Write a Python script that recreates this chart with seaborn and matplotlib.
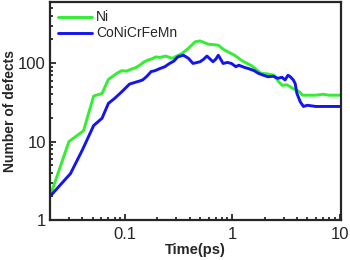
import matplotlib
matplotlib.use("Agg")
import matplotlib.pyplot as plt
import seaborn as sns
import pandas as pd
from matplotlib.ticker import LogLocator, NullFormatter, FixedLocator, FixedFormatter

ni_t = [0.02, 0.03, 0.041, 0.051, 0.061, 0.07, 0.085, 0.093, 0.103, 0.115, 0.127, 0.14,
        0.151, 0.165, 0.18, 0.194, 0.21, 0.24, 0.26, 0.276, 0.3, 0.34, 0.38, 0.42, 0.45,
        0.5, 0.55, 0.6, 0.67, 0.74, 0.8, 0.85, 0.95, 1.05, 1.21, 1.35, 1.49, 1.65, 1.85,
        2.1, 2.45, 2.7, 2.92, 3.2, 3.47, 3.7, 4.0, 4.3, 4.5, 5, 6, 7, 8, 10]
ni_n = [2, 10, 13.7, 38, 41, 62, 75, 80, 79, 84, 88, 96,
        104, 110, 114, 120, 118, 123, 118, 115, 122, 133, 150, 170, 187,
        192, 182, 174, 172, 169, 155, 146, 135, 126, 109, 100, 94, 84, 74,
        73, 70, 58, 52, 53, 50, 47, 45, 42, 39, 39, 39, 40, 39, 39]

hea_t = [0.02, 0.031, 0.04, 0.051, 0.061, 0.07, 0.08, 0.093, 0.11, 0.125, 0.136, 0.146,
         0.16, 0.175, 0.19, 0.21, 0.235, 0.26, 0.285, 0.31, 0.35, 0.39, 0.43, 0.5, 0.54,
         0.58, 0.66, 0.7, 0.74, 0.82, 0.9, 0.98, 1.08, 1.15, 1.3, 1.42, 1.6, 1.75, 1.95,
         2.15, 2.4, 2.65, 2.9, 3.1, 3.3, 3.47, 3.7, 3.85, 4.0, 4.3, 4.6, 5, 6, 7, 8, 10]
hea_n = [2, 3.9, 7.8, 16, 19.8, 30.7, 35.5, 43, 54, 57, 59, 61,
         68, 78, 80, 85, 90, 99, 106, 120, 126, 115, 99, 104, 112,
         123, 104, 112, 126, 99, 102, 99, 90, 94, 88, 85, 80, 74, 70,
         67, 68, 64, 66, 61, 70, 67, 61, 55, 41, 32, 28, 29, 28, 28, 28, 28]

labels = ["Ni", "CoNiCrFeMn"]
colors = ["#33ee33", "#1414ee"]

df = pd.concat([
    pd.DataFrame({"t": ni_t, "n": ni_n, "alloy": labels[0]}),
    pd.DataFrame({"t": hea_t, "n": hea_n, "alloy": labels[1]}),
])

sns.set_style("ticks")
plt.rcParams["font.family"] = ["Liberation Sans", "DejaVu Sans"]

fig = plt.figure(figsize=(3.5, 2.6), dpi=100)
ax = fig.add_axes([0.143, 0.154, 0.83, 0.838])

sns.lineplot(data=df, x="t", y="n", hue="alloy", palette=colors, linewidth=2.1, ax=ax)

ax.set_xscale("log")
ax.set_yscale("log")
ax.set_xlim(0.02, 10.2)
ax.set_ylim(1, 600)

ax.xaxis.set_major_locator(FixedLocator([0.1, 1, 10]))
ax.xaxis.set_major_formatter(FixedFormatter(["0.1", "1", "10"]))
ax.yaxis.set_major_locator(FixedLocator([1, 10, 100]))
ax.yaxis.set_major_formatter(FixedFormatter(["1", "10", "100"]))
ax.xaxis.set_minor_locator(LogLocator(base=10, subs=range(2, 10)))
ax.yaxis.set_minor_locator(LogLocator(base=10, subs=range(2, 10)))
ax.xaxis.set_minor_formatter(NullFormatter())
ax.yaxis.set_minor_formatter(NullFormatter())

ax.tick_params(which="both", direction="in", width=1.3, labelsize=12)
ax.tick_params(axis="x", pad=5)
ax.tick_params(axis="y", pad=3)
ax.tick_params(which="major", length=4)
ax.tick_params(which="minor", length=2.5)
for s in ax.spines.values():
    s.set_linewidth(1.6)
    s.set_visible(True)

ax.set_xlabel("Time(ps)", fontsize=10.5, fontweight="bold", labelpad=1)
ax.set_ylabel("Number of defects", fontsize=10, fontweight="bold", labelpad=1)

ax.legend(loc="upper left", frameon=False, fontsize=10, handlelength=2.4,
          handletextpad=0.3, labelspacing=0.15, borderaxespad=0.2, title=None)

fig.savefig("out.png", dpi=100)
